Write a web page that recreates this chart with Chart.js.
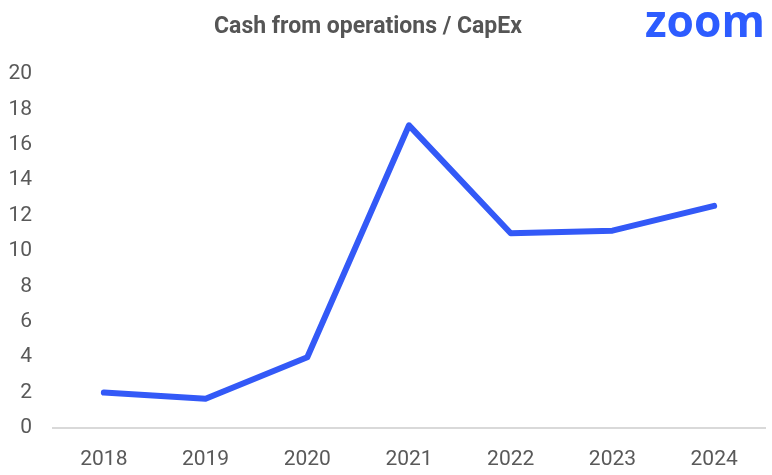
<!DOCTYPE html>
<html>
<head>
<meta charset="utf-8">
<script src="https://cdn.jsdelivr.net/npm/chart.js@4"></script>
<style>
  html, body { margin: 0; padding: 0; background: #fff; }
  #wrap { position: relative; width: 772px; height: 475px; }
</style>
</head>
<body>
<div id="wrap"><canvas id="chart"></canvas></div>
<script>
'use strict'

const years = ['2018', '2019', '2020', '2021', '2022', '2023', '2024']
const cashOverCapex = [2.0, 1.65, 4.0, 17.1, 11.0, 11.15, 12.55]
const titleText = 'Cash from operations / CapEx'
const logoText = 'zoom'

// header: title and the brand mark, drawn on the canvas
const headerPlugin = {
  id: 'header',
  afterDraw (chart) {
    const ctx = chart.ctx
    ctx.save()
    ctx.textBaseline = 'alphabetic'
    ctx.textAlign = 'center'
    ctx.fillStyle = '#555555'
    ctx.font = 'bold 23px Roboto'
    ctx.fillText(titleText, 368, 33)
    // logo is wide and geometric, stretch it to fit its box
    ctx.fillStyle = '#2D5CFF'
    ctx.font = 'bold 45px "Open Sans"'
    const w = ctx.measureText(logoText).width
    ctx.translate(645, 37)
    ctx.scale(120 / w, 1)
    ctx.textAlign = 'left'
    ctx.fillText(logoText, 0, 0)
    ctx.restore()
  }
}

const ctx = document.getElementById('chart')
const myChart = new Chart(ctx, {
  type: 'line',
  data: {
    labels: years,
    datasets: [{
      label: titleText,
      data: cashOverCapex,
      borderColor: '#3359F7',
      borderWidth: 6,
      borderCapStyle: 'round',
      borderJoinStyle: 'round',
      pointRadius: 0,
      tension: 0
    }]
  },
  options: {
    responsive: true,
    maintainAspectRatio: false,
    animation: false,
    layout: { padding: { top: 74, left: 6, right: 7, bottom: 0 } },
    plugins: {
      legend: { display: false },
      title: { display: false },
      tooltip: { enabled: false }
    },
    scales: {
      x: {
        offset: true,
        grid: { display: false, drawTicks: false },
        border: { display: true, color: '#d9d9d9', width: 2 },
        ticks: { color: '#595959', font: { family: 'Roboto', size: 21 }, padding: 19 },
        afterFit (scale) { scale.height = 47 }
      },
      y: {
        min: 0,
        max: 20,
        grid: { display: false, drawTicks: false },
        border: { display: false },
        ticks: { stepSize: 2, color: '#595959', font: { family: 'Roboto', size: 21 }, padding: 21 },
        afterFit (scale) { scale.width = 47 }
      }
    }
  },
  plugins: [headerPlugin]
})
</script>
</body>
</html>
